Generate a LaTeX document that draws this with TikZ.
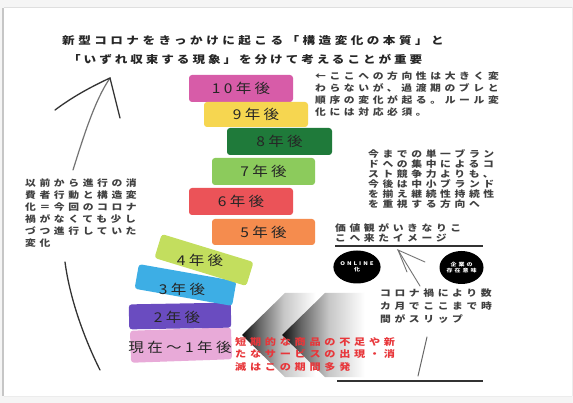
\documentclass[tikz,border=0pt]{standalone}
\usepackage{fontspec}
\usetikzlibrary{shapes.geometric}
\newfontfamily\jpS[FakeStretch=1.2,LetterSpace=40]{Noto Sans CJK JP}
\newfontfamily\jpT[FakeStretch=1.2,LetterSpace=28]{Noto Sans CJK JP}
\newfontfamily\jpTw[FakeStretch=1.2,LetterSpace=33]{Noto Sans CJK JP}
\newfontfamily\jpB[FakeStretch=1.15,LetterSpace=25]{Noto Sans CJK JP}
\definecolor{c10}{HTML}{D75CA8}
\definecolor{c9}{HTML}{F6D650}
\definecolor{c8}{HTML}{1F7A3A}
\definecolor{c7}{HTML}{8CCB5C}
\definecolor{c6}{HTML}{EB5358}
\definecolor{c5}{HTML}{F58C4E}
\definecolor{c4}{HTML}{C3DE5E}
\definecolor{c3}{HTML}{3DAEE5}
\definecolor{c2}{HTML}{6A4CC0}
\definecolor{c1}{HTML}{E8AAD8}
\definecolor{redtxt}{HTML}{E8363A}
\pgfdeclarehorizontalshading{chevfade}{100bp}{color(0bp)=(black); color(25bp)=(black!95); color(32bp)=(black!60); color(42bp)=(black!22); color(55bp)=(white); color(100bp)=(white)}
\tikzset{
  smalltxt/.style={inner sep=0pt, anchor=north west, align=left, text=black!75},
  yearbox/.style={rounded corners=3pt, inner sep=0pt, font=\jpB\fontsize{13.5}{14}\selectfont, text=black!85},
  yeartext/.style={inner sep=0pt, font=\jpB\fontsize{13.5}{14}\selectfont, text=black!85},
  handline/.style={black!80, line width=1.3pt, line cap=round},
  blackcirc/.style={ellipse, fill=black, minimum width=44pt, minimum height=33pt, inner sep=0pt, text=white, align=center, font=\jpS\bfseries\fontsize{5}{6.5}\selectfont},
  chev/.style={shading=chevfade},
}
\begin{document}
\begin{tikzpicture}[x=1pt,y=-1pt]
\useasboundingbox (0,0) rectangle (573,403);
% frame
\fill[gray!8] (0,0) rectangle (573,403);
\fill[white] (4,7) rectangle (572,396);
\draw[gray!45,line width=1.5pt] (3,8) -- (3,396);
\draw[gray!25,line width=0.8pt] (4,7) -- (572,7);
\draw[gray!15] (4,396) -- (572,396);
\draw[gray!15] (572,7) -- (572,396);

% title
\node[inner sep=0pt, anchor=west, text=black!85, font=\jpTw\bfseries\fontsize{10.5}{12}\selectfont] (t1) at (62,41) {新型コロナをきっかけに起こる「構造変化の本質」と};
\node[inner sep=0pt, anchor=west, text=black!85, font=\jpT\bfseries\fontsize{10.5}{12}\selectfont] (t2) at (68,59) {「いずれ収束する現象」を分けて考えることが重要};

% chevrons
\shade[chev] (242,335) -- (285,293) -- (365,293) -- (322,335) -- (365,377) -- (285,377) -- cycle;
\shade[chev] (282,335) -- (325,293) -- (420,293) -- (377,335) -- (420,377) -- (325,377) -- cycle;

% year boxes
\node[yearbox, fill=c10, minimum width=104pt, minimum height=27pt] (y10) at (241,88.5) {10年後};
\node[yearbox, fill=c9, minimum width=104pt, minimum height=25pt] (y9) at (256,114.5) {9年後};
\node[yearbox, fill=c8, minimum width=105pt, minimum height=27pt] (y8) at (279.5,141.5) {8年後};
\node[yearbox, fill=c7, minimum width=103pt, minimum height=27pt] (y7) at (263.5,171.5) {7年後};
\node[yearbox, fill=c6, minimum width=104pt, minimum height=27pt] (y6) at (241,201.5) {6年後};
\node[yearbox, fill=c5, minimum width=103pt, minimum height=26pt] (y5) at (263.5,232) {5年後};
\node[yearbox, fill=c1, minimum width=101pt, minimum height=32pt, rotate=2] (y1) at (181,345) {};
\node[yearbox, fill=c2, minimum width=102pt, minimum height=25pt, rotate=1] (y2) at (180,316) {};
\node[yearbox, fill=c3, minimum width=99pt, minimum height=25pt, rotate=-10] (y3) at (185.5,285) {};
\node[yearbox, fill=c4, minimum width=96pt, minimum height=25pt, rotate=-17] (y4) at (204,260) {};
\node[yeartext] (t4) at (200,260) {4年後};
\node[yeartext] (t3) at (182,289) {3年後};
\node[yeartext] (t2y) at (177,317) {2年後};
\node[yeartext] (t1y) at (180,347) {現在〜1年後};

% left curved arrow
\draw[black!55, line width=1.2pt, line cap=round] (73,170) .. controls (84,135) and (95,100) .. (110,78);
\draw[handline] (55,110) .. controls (75,95) and (95,85) .. (110,78) -- (120,118);
\draw[handline] (65,262) .. controls (70,300) and (85,340) .. (100,370);

% texts
\node[smalltxt, font=\jpS\bfseries\fontsize{9}{11.7}\selectfont] (ta) at (315,72) {←ここへの方向性は大きく変\\わらないが、過渡期のブレと\\順序の変化が起る。ルール変\\化には対応必須。};
\node[smalltxt, font=\jpS\bfseries\fontsize{9}{10}\selectfont] (tb) at (368,149) {今までの単一ブラン\\ドへの集中によるコ\\スト競争力よりも、\\今後は中小ブランド\\を揃え継続性持続性\\を重視する方向へ};
\node[smalltxt, font=\jpS\bfseries\fontsize{9}{10}\selectfont] (tc) at (335,223) {価値観がいきなりこ\\こへ来たイメージ};
\node[smalltxt, font=\jpS\bfseries\fontsize{9}{13}\selectfont] (td) at (380,289) {コロナ禍により数\\カ月でここまで時\\間がスリップ};
\node[smalltxt, font=\jpS\bfseries\fontsize{9}{12}\selectfont] (te) at (25,179) {以前から進行の消\\費者行動と構造変\\化＝今回のコロナ\\禍がなくても少し\\づつ進行していた\\変化};
\node[smalltxt, text=redtxt, font=\jpS\bfseries\fontsize{9.3}{12.5}\selectfont] (tr) at (235,337) {短期的な商品の不足や新\\たなサービスの出現・消\\滅はこの期間多発};

% lines, circles, arrow
\draw[black!80, line width=2pt] (335,246) -- (483,246);
\draw[black!80, line width=2pt] (337,381) -- (483,381);
\node[blackcirc] (online) at (357,267) {ONLINE\\化};
\node[blackcirc] (kigyo) at (461.5,267.5) {企業の\\存在意味};
\coordinate (tip) at (398,250);
\draw[black!55, line width=0.9pt, line cap=round] (420,286) -- (tip) -- (425,262);
\draw[black!55, line width=0.9pt, line cap=round] (tip) -- (407,272);
\draw[black!60, line width=1pt, line cap=round] (427,337) .. controls (424,350) and (421,363) .. (418,376);
\end{tikzpicture}
\end{document}
